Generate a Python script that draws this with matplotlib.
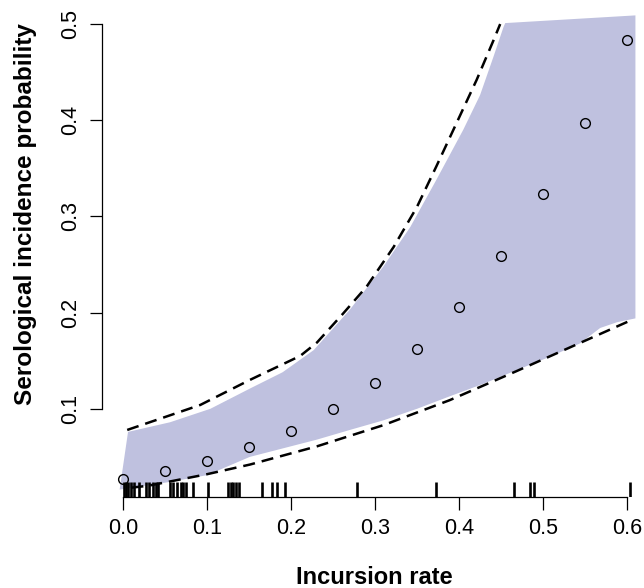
import matplotlib
matplotlib.use('Agg')
import matplotlib.pyplot as plt
import matplotlib.transforms as mtransforms

plt.rcParams['font.family'] = ['Liberation Sans', 'DejaVu Sans']

# valeurs
rate = [0.0, 0.05, 0.1, 0.15, 0.2, 0.25, 0.3, 0.35, 0.4, 0.45, 0.5, 0.55, 0.6]
prob = [0.027, 0.035, 0.046, 0.060, 0.077, 0.0995, 0.127, 0.162, 0.206, 0.259, 0.323, 0.397, 0.483]

# bord de la zone grisee
band_up_x = [-0.004, 0.006, 0.056, 0.104, 0.151, 0.190, 0.227, 0.270, 0.310, 0.342,
             0.373, 0.405, 0.425, 0.441, 0.453, 0.455, 0.610]
band_up_y = [0.016, 0.076, 0.086, 0.100, 0.121, 0.138, 0.161, 0.203, 0.248, 0.289,
             0.338, 0.390, 0.426, 0.466, 0.497, 0.501, 0.509]
band_lo_x = [0.610, 0.588, 0.568, 0.544, 0.508, 0.468, 0.429, 0.389, 0.350, 0.310,
             0.270, 0.231, 0.191, 0.151, 0.100, 0.056]
band_lo_y = [0.194, 0.190, 0.184, 0.168, 0.154, 0.140, 0.126, 0.113, 0.100, 0.088,
             0.078, 0.068, 0.059, 0.050, 0.031, 0.024]

# courbes en tirets
haut_x = [0.005, 0.092, 0.151, 0.211, 0.231, 0.262, 0.290, 0.322, 0.350, 0.373,
          0.397, 0.421, 0.441, 0.449]
haut_y = [0.078, 0.104, 0.130, 0.155, 0.169, 0.199, 0.227, 0.268, 0.310, 0.352,
          0.397, 0.442, 0.483, 0.500]
bas_x = [0.010, 0.030, 0.100, 0.151, 0.231, 0.310, 0.389, 0.468, 0.548, 0.602]
bas_y = [0.018, 0.020, 0.032, 0.042, 0.061, 0.083, 0.109, 0.139, 0.170, 0.191]

# rug des observations
obs = [0.0012, 0.0032, 0.0056, 0.0095, 0.013, 0.0187, 0.0274, 0.0313, 0.036, 0.039,
       0.042, 0.056, 0.060, 0.0647, 0.0687, 0.0718, 0.075, 0.0837, 0.1016, 0.1254,
       0.128, 0.1313, 0.1345, 0.138, 0.165, 0.177, 0.183, 0.193, 0.278, 0.3726,
       0.4655, 0.4845, 0.489, 0.6036]

xticks = [0.0, 0.1, 0.2, 0.3, 0.4, 0.5, 0.6]
yticks = [0.1, 0.2, 0.3, 0.4, 0.5]

W, H = 644, 588
fig = plt.figure(figsize=(W / 100, H / 100), dpi=100)
ax = fig.add_axes([102 / W, (H - 497) / H, 542 / W, 497 / H])

ax.fill(band_up_x + band_lo_x, band_up_y + band_lo_y, color='#bfc1df', lw=0)
ax.plot(haut_x, haut_y, color='black', lw=1.8, dashes=(4.8, 2.8))
ax.plot(bas_x, bas_y, color='black', lw=1.8, dashes=(4.8, 2.8))
ax.plot(rate, prob, 'o', mfc='none', mec='black', ms=7, mew=1)

trans = mtransforms.blended_transform_factory(ax.transData, ax.transAxes)
ax.vlines(obs, 0, 0.03, transform=trans, color='black', lw=1.9)

ax.set_xlim(-0.025, 0.6202)
ax.set_ylim(0.0083, 0.525)

for s in ['top', 'right']:
    ax.spines[s].set_visible(False)
ax.spines['left'].set_bounds(0.1, 0.5)
ax.spines['bottom'].set_bounds(0.0, 0.6)
ax.spines['left'].set_linewidth(0.9)
ax.spines['bottom'].set_linewidth(0.9)

ax.set_xticks(xticks)
ax.set_xticklabels(['%.1f' % v for v in xticks])
ax.set_yticks(yticks)
ax.set_yticklabels(['%.1f' % v for v in yticks], rotation=90, va='center')
ax.tick_params(length=9, width=0.9, labelsize=15.5, pad=6)

fig.text(374 / W, 1 - 577 / H, 'Incursion rate', ha='center', va='center',
         fontsize=17, fontweight='bold')
fig.text(26 / W, 1 - 214 / H, 'Serological incidence probability', ha='center',
         va='center', rotation=90, fontsize=17.5, fontweight='bold')

fig.savefig('out.png', dpi=100)
